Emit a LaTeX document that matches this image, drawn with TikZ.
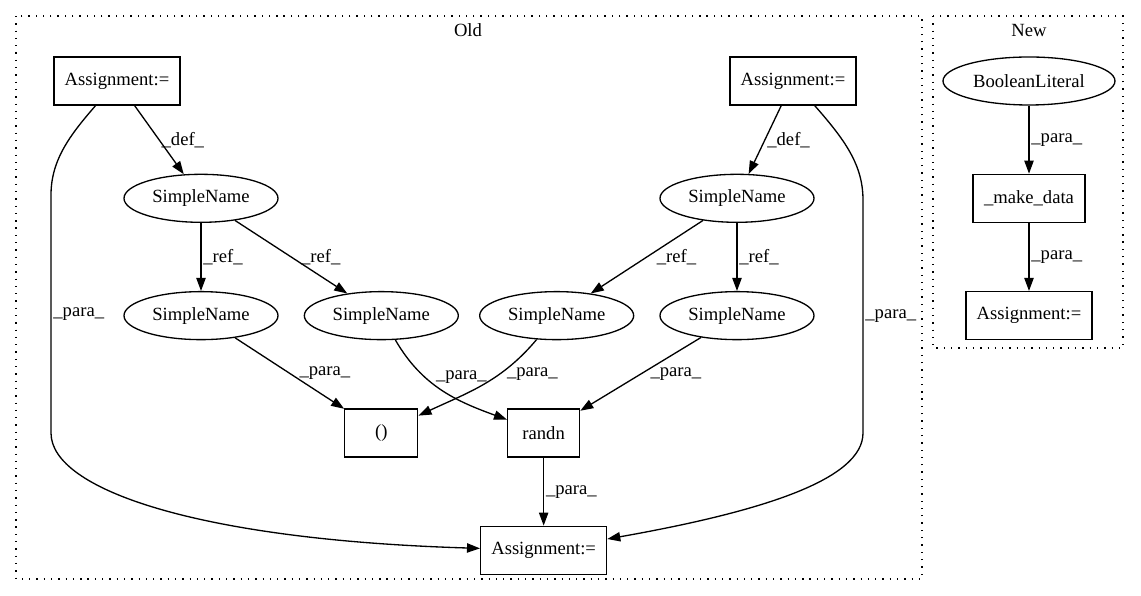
\documentclass[tikz,border=0pt]{standalone}
\usepackage{fontspec}
\setmainfont{Liberation Serif}
\usetikzlibrary{arrows.meta,positioning,shapes.geometric}

\begin{document}
\begin{tikzpicture}[x=0.2mm, y=0.2mm, node distance=13.6mm, font=\fontsize{10.6}{12.7}\selectfont]
\tikzstyle{main}=[ellipse, draw=black, line width=0.75pt, minimum width=30.8mm, minimum height=9.6mm, inner sep=0pt]
\tikzstyle{box}=[rectangle, draw=black, line width=0.75pt, minimum width=25.2mm, minimum height=9.6mm, inner sep=0pt]
\tikzstyle{connect}=[-{Triangle[length=7.4pt, width=5.3pt]}, line width=0.75pt]
\tikzstyle{lbl}=[midway, right, inner sep=1pt]
\tikzstyle{cluster}=[draw=black, line width=0.75pt, dash pattern=on 0.75pt off 3.4pt]
\useasboundingbox (0,0) rectangle (1141,-596);
\draw[cluster] (16,-16) rectangle (922,-579);
\draw[cluster] (933,-16) rectangle (1123,-348);
\node (Old) at (468,-30) {Old};
\node (New) at (1029,-30) {New};
\node[box] (AssignA) at (117,-81) {Assignment:=};
\node[main] (NameA) [below=of AssignA, xshift=16.8mm] {SimpleName};
\node[main] (NameC) [below=of NameA] {SimpleName};
\node[main] (NameD) [right=5mm of NameC] {SimpleName};
\node[box] (AssignB) at (793,-81) {Assignment:=};
\node[main] (NameB) [below=of AssignB, xshift=-11.2mm] {SimpleName};
\node[main] (NameF) [below=of NameB] {SimpleName};
\node[main] (NameE) [left=5mm of NameF] {SimpleName};
\node[box, minimum width=14.6mm] (Paren) [below=of NameD] {()};
\node[box, minimum width=14.4mm] (Randn) [right=17.7mm of Paren] {randn};
\node[box] (AssignC) [below=of Randn] {Assignment:=};
\node[main, minimum width=34.4mm] (Bool) at (1029,-81) {BooleanLiteral};
\node[box, minimum width=22.4mm] (MakeData) [below=of Bool] {\_make\_data};
\node[box] (AssignD) [below=of MakeData] {Assignment:=};
  \path
  	(AssignA) edge [connect] node[lbl] {\_def\_} (NameA)
  	(NameA) edge [connect] node[lbl] {\_ref\_} (NameC)
  	(NameA) edge [connect] node[lbl, xshift=1.5mm] {\_ref\_} (NameD)
  	(AssignB) edge [connect] node[lbl] {\_def\_} (NameB)
  	(NameB) edge [connect] node[lbl, xshift=1.5mm] {\_ref\_} (NameE)
  	(NameB) edge [connect] node[lbl] {\_ref\_} (NameF)
  	(NameC) edge [connect] node[lbl, xshift=1.5mm] {\_para\_} (Paren)
  	(NameD) edge [connect, out=-60, in=160] node[lbl, pos=0.33, xshift=1.8mm] {\_para\_} (Randn)
  	(NameE) edge [connect, out=-130, in=25] node[lbl, pos=0.35, xshift=1mm] {\_para\_} (Paren)
  	(NameF) edge [connect] node[lbl, xshift=1.5mm] {\_para\_} (Randn)
  	(Randn) edge [connect] node[lbl] {\_para\_} (AssignC)
  	(Bool) edge [connect] node[lbl] {\_para\_} (MakeData)
  	(MakeData) edge [connect] node[lbl] {\_para\_} (AssignD);
\draw[connect] (AssignA) .. controls (70,-135) and (51,-160) .. (51,-195)
  -- node[lbl] {\_para\_} (51,-433) .. controls (51,-490) and (200,-540) .. (AssignC);
\draw[connect] (AssignB) .. controls (845,-140) and (863,-165) .. (863,-200)
  -- node[lbl] {\_para\_} (863,-433) .. controls (863,-480) and (760,-512) .. (AssignC);
\end{tikzpicture}
\end{document}
